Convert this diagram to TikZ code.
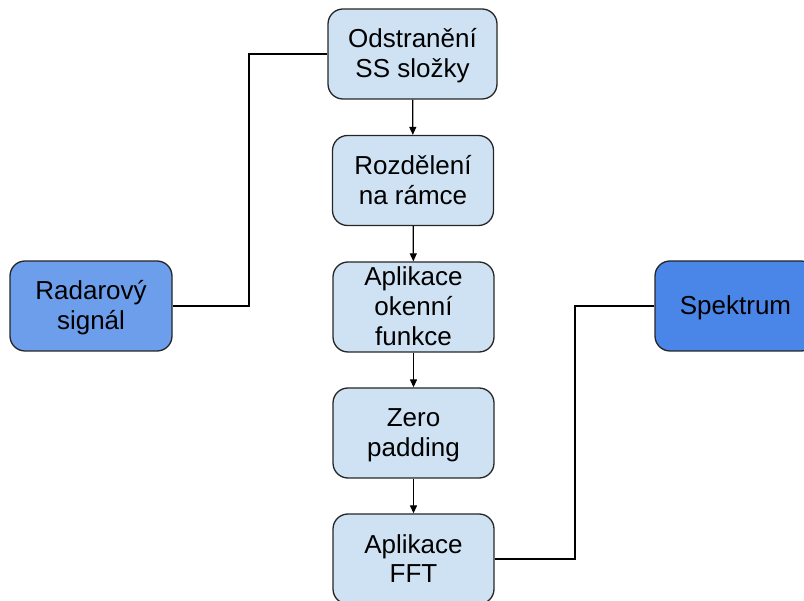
\documentclass[tikz,border=0pt]{standalone}
\usepackage{fontspec}
\setmainfont{Liberation Sans}
\usetikzlibrary{arrows.meta}
\definecolor{stepfill}{HTML}{CFE2F3}
\definecolor{srcfill}{HTML}{6D9EEB}
\definecolor{dstfill}{HTML}{4A86E8}
% centred multi-line label, set on fixed-height rows and dropped slightly
\newcommand\boxlines[1]{\raisebox{-3pt}[\height][\depth]{\begin{tabular}{@{}c@{}}#1\end{tabular}}}
\tikzset{
  block/.style={draw=black!85, line width=1.3pt, rounded corners=15pt,
    minimum height=90pt, align=center, inner sep=0pt,
    font=\fontsize{26}{30}\selectfont},
  stepbox/.style={block, fill=stepfill, minimum width=161pt},
  flow/.style={draw=black, line width=1.2pt, -{Triangle[length=8pt,width=7pt]}},
  link/.style={draw=black, line width=1.2pt},
}
\begin{document}
\begin{tikzpicture}[x=1pt,y=-1pt]
\useasboundingbox (0,0) rectangle (804,601);
% processing chain
\node[stepbox, minimum width=169pt] (dc)  at (412.5,54)  {\boxlines{Odstranění\\SS složky}};
\node[stepbox] (frames) at (413,180.5) {\boxlines{Rozdělení\\na rámce}};
\node[stepbox] (win)    at (413.5,307) {\boxlines{Aplikace\\okenní\\funkce}};
\node[stepbox] (zp)     at (413.5,433) {\boxlines{Zero\\padding}};
\node[stepbox] (fft)    at (413.5,559) {\boxlines{Aplikace\\FFT}};
% input and output
\node[block, fill=srcfill, minimum width=162pt] (sig)  at (91,306)    {\boxlines{Radarový\\signál}};
\node[block, fill=dstfill, minimum width=161pt] (spec) at (735.5,306) {\boxlines{Spektrum}};
% connectors
\draw[flow] (dc) -- (frames);
\draw[flow] (frames) -- (win);
\draw[flow] (win) -- (zp);
\draw[flow] (zp) -- (fft);
\draw[link] (sig.east) -- (249,306) |- (dc.west);
\draw[link] (fft.east) -- (575,559) |- (spec.west);
\end{tikzpicture}
\end{document}
